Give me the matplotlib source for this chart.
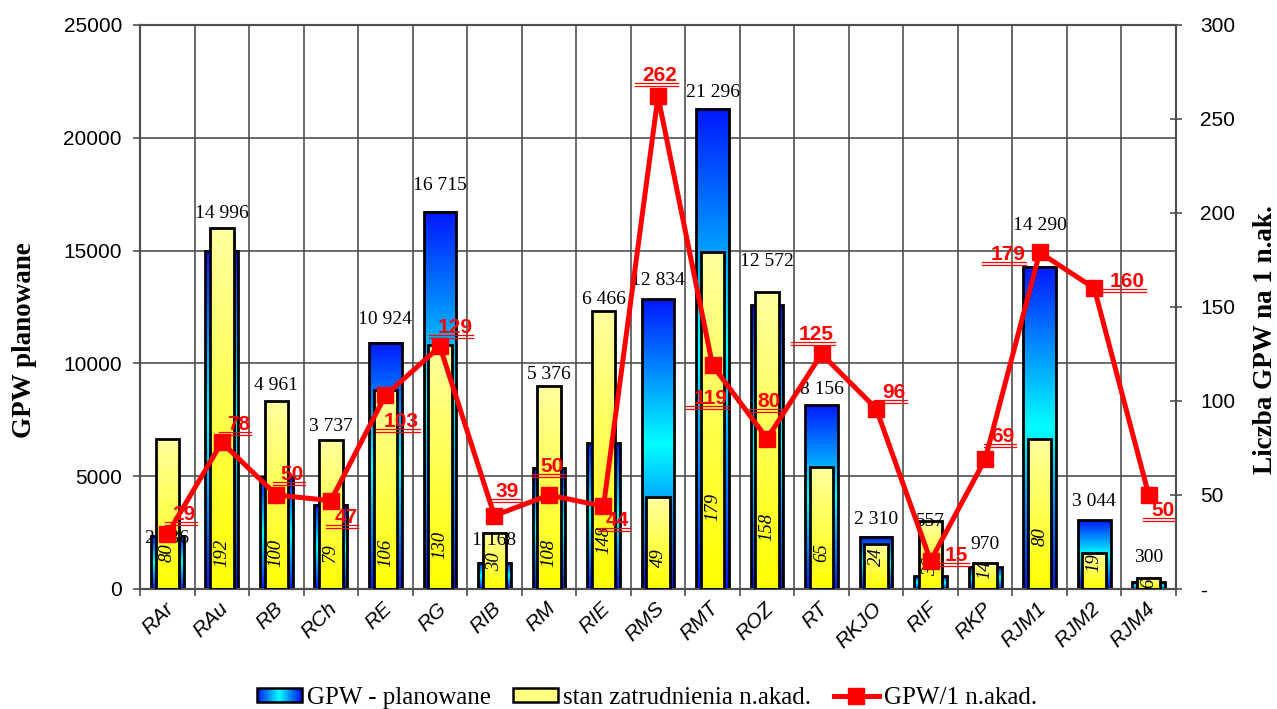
import numpy as np
import matplotlib
matplotlib.use("Agg")
import matplotlib.pyplot as plt
import matplotlib.transforms as mtransforms
from matplotlib.patches import Rectangle, Patch
from matplotlib.lines import Line2D
from matplotlib.colors import LinearSegmentedColormap
from matplotlib.legend_handler import HandlerBase

plt.rcParams['font.family'] = ['Liberation Sans', 'DejaVu Sans']

categories = ['RAr', 'RAu', 'RB', 'RCh', 'RE', 'RG', 'RIB', 'RM', 'RIE', 'RMS',
              'RMT', 'ROZ', 'RT', 'RKJO', 'RIF', 'RKP', 'RJM1', 'RJM2', 'RJM4']
gpw_planned = [2336, 14996, 4961, 3737, 10924, 16715, 1168, 5376, 6466, 12834,
               21296, 12572, 8156, 2310, 557, 970, 14290, 3044, 300]
staff = [80, 192, 100, 79, 106, 130, 30, 108, 148, 49,
         179, 158, 65, 24, 36, 14, 80, 19, 6]
gpw_per_staff = [29, 78, 50, 47, 103, 129, 39, 50, 44, 262,
                 119, 80, 125, 96, 15, 69, 179, 160, 50]

# label placement, in pixels
ratio_offsets = [(17, 18), (17, 16), (16, 19), (15, -19), (16, -28), (15, 17), (13, 22),
                 (3, 27), (14, -16), (2, 19), (-2, -35), (2, 35), (-5, 18), (18, 14),
                 (26, 3), (18, 21), (-32, -4), (33, 5), (14, -17)]
staff_label_dy = [36, 36, 36, 36, 36, 44, 27, 36, 49, 31, 82, 62, 36, 32, 22, 19, 52, 26, 6]
gpw_label_dy = [-102, 13, 13, 12, 21, 24, -10, 9, 9, 17, 14, 28, 14, 15, -2, 16, 39, 17, 18]

blue_cmap = LinearSegmentedColormap.from_list('bl', ['#0018ff', '#00ffff', '#0018ff'])
yellow_cmap = LinearSegmentedColormap.from_list('ye', ['#ffffa0', '#ffff00'])
grad_b = blue_cmap(np.linspace(0, 1, 256))[:, None, :3]
grad_y = yellow_cmap(np.linspace(0, 1, 256))[:, None, :3]

fig = plt.figure(figsize=(12.77, 7.09), dpi=100)
ax = fig.add_axes([140/1277, 1-589/709, 1036/1277, 564/709])
ax2 = ax.twinx()

n = len(categories)
bw, yw = 0.6, 0.43
grid_c = '#505050'

for i, v in enumerate(gpw_planned):
    ax.imshow(grad_b, extent=[i-bw/2, i+bw/2, 0, v], aspect='auto', zorder=2,
              interpolation='bilinear')
    ax.add_patch(Rectangle((i-bw/2, 0), bw, v, fill=False, ec='black', lw=2, zorder=3))

for i, v in enumerate(staff):
    ax2.imshow(grad_y, extent=[i-yw/2, i+yw/2, 0, v], aspect='auto', zorder=2,
               interpolation='bilinear')
    ax2.add_patch(Rectangle((i-yw/2, 0), yw, v, fill=False, ec='black', lw=2, zorder=3))

ax.set_xlim(-0.5, n-0.5)
ax.set_ylim(0, 25000)
ax2.set_ylim(0, 300)

# grid
ax.set_axisbelow(True)
ax.set_yticks(np.arange(0, 25001, 5000))
ax.grid(axis='y', color=grid_c, lw=1.2)
ax.set_xticks(np.arange(n))
ax.set_xticks(np.arange(-0.5, n), minor=True)
ax.grid(axis='x', which='minor', color=grid_c, lw=1.2)
ax.set_xticklabels(categories, rotation=45, ha='right', va='top', fontstyle='italic',
                   fontsize=15)
ax.tick_params(axis='x', which='major', length=0, pad=7)
ax.tick_params(axis='x', which='minor', length=5, color=grid_c, width=1.2)
shift = mtransforms.ScaledTranslation(10/100, 0, fig.dpi_scale_trans)
for lab in ax.get_xticklabels():
    lab.set_transform(lab.get_transform() + shift)
ax.tick_params(axis='y', length=5, pad=8, labelsize=15, color=grid_c, width=1.2)

ax2.set_yticks(np.arange(0, 301, 50))
ax2.set_yticklabels(['-'] + [str(t) for t in range(50, 301, 50)])
ax2.tick_params(axis='y', direction='inout', length=9, pad=13, labelsize=15,
                color=grid_c, width=1.2)
for a in (ax, ax2):
    for s in a.spines.values():
        s.set_color(grid_c)
        s.set_linewidth(1.5)

# line
ax2.plot(np.arange(n), gpw_per_staff, color='#ff0000', lw=3.6, marker='s',
         markersize=12, zorder=6, clip_on=False)

# blue value labels
for i, v in enumerate(gpw_planned):
    txt = f"{v:,}".replace(',', ' ')
    top = max(v * 300 / 25000, staff[i])
    ax2.annotate(txt, xy=(i, top), xytext=(0, gpw_label_dy[i] + 2),
                 textcoords='offset pixels', ha='center', va='center',
                 family='Liberation Serif', fontsize=14, zorder=5)

# staff labels inside yellow bars
for i, v in enumerate(staff):
    ax2.annotate(str(v), xy=(i, 0), xytext=(0, staff_label_dy[i]),
                 textcoords='offset pixels', ha='center', va='center', rotation=90,
                 family='Liberation Serif', fontstyle='italic', fontsize=13.5, zorder=5)

# ratio labels, double underlined
red_labels = []
for i, v in enumerate(gpw_per_staff):
    dx, dy = ratio_offsets[i]
    t = ax2.annotate(str(v), xy=(i, v), xytext=(dx, dy + 2),
                     textcoords='offset pixels', ha='center', va='center',
                     color='#ff0000', fontweight='bold', fontsize=15, zorder=8,
                     annotation_clip=False)
    red_labels.append(t)

fig.text(25/1277, 1-340/709, 'GPW planowane', rotation=90, ha='center', va='center',
         family='Liberation Serif', fontweight='bold', fontsize=19.5)
fig.text(1265/1277, 1-340/709, 'Liczba GPW na 1 n.ak.', rotation=90, ha='center',
         va='center', family='Liberation Serif', fontweight='bold', fontsize=19.5)


class HandlerGradient(HandlerBase):
    def create_artists(self, legend, orig_handle, xdescent, ydescent, width, height,
                       fontsize, trans):
        arts = []
        k = 30
        for j in range(k):
            col = blue_cmap(j / (k - 1))
            arts.append(Rectangle((-xdescent + width * j / k, -ydescent), width / k + 0.3,
                                  height, fc=col, ec='none', transform=trans))
        arts.append(Rectangle((-xdescent, -ydescent), width, height, fill=False,
                              ec='black', lw=1.8, transform=trans))
        return arts


h_blue = Patch(label='GPW - planowane')
h_yel = Patch(fc='#ffff80', ec='black', lw=1.8, label='stan zatrudnienia n.akad.')
h_line = Line2D([], [], color='#ff0000', lw=3.6, marker='s', markersize=12,
                label='GPW/1 n.akad.')
fig.legend(handles=[h_blue, h_yel, h_line], loc='center',
           bbox_to_anchor=(647/1277, 1-698/709), ncol=3, frameon=False,
           prop={'family': 'Liberation Serif', 'size': 18}, handlelength=1.8,
           handleheight=0.5, handletextpad=0.2, columnspacing=0.9, borderpad=0,
           handler_map={h_blue: HandlerGradient()})

# double underline under the red labels
fig.canvas.draw()
renderer = fig.canvas.get_renderer()
for t in red_labels:
    bb = t.get_window_extent(renderer)
    x0, x1 = bb.x0 - 8, bb.x1 + 1
    for yy in (bb.y0 + 2, bb.y0 - 1):
        fig.add_artist(Line2D([x0 / 1277, x1 / 1277], [yy / 709, yy / 709],
                              transform=fig.transFigure, color='#ff0000', lw=0.9,
                              zorder=9))

fig.savefig('out.png', dpi=100)
